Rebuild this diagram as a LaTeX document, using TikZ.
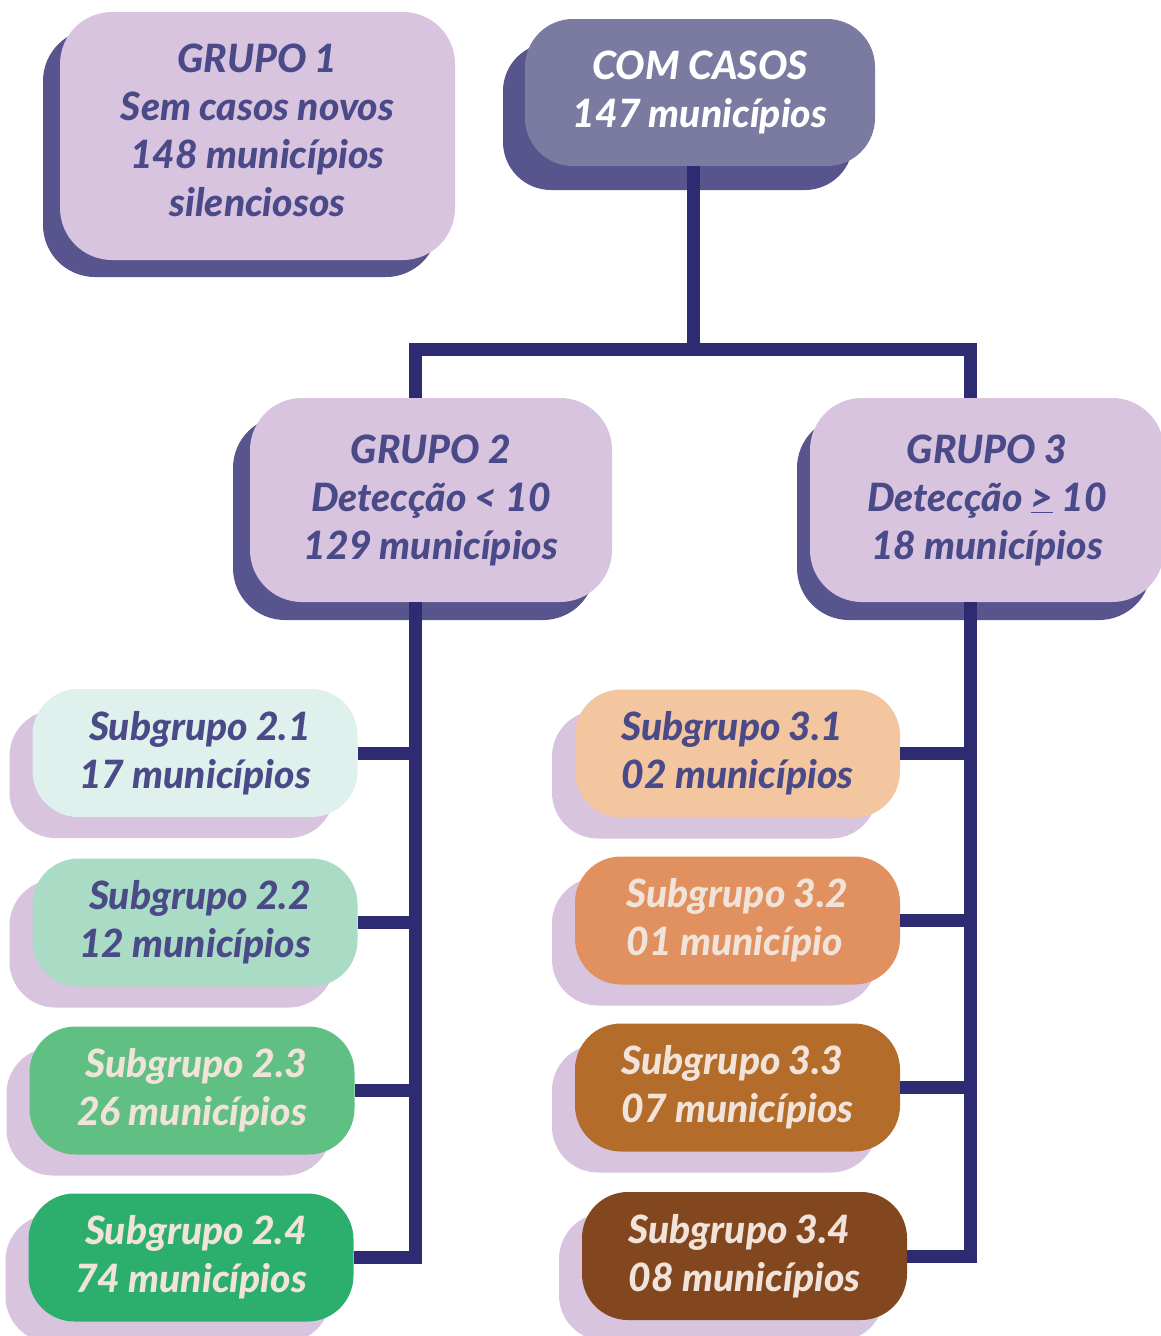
\documentclass[tikz,border=0pt]{standalone}
\usepackage{fontspec}
\setmainfont{Lato}[BoldItalicFont={Lato Heavy Italic}]
\usetikzlibrary{shadows}

\definecolor{lilac}{HTML}{D8C4DF}
\definecolor{deep}{HTML}{58558E}
\definecolor{lavender}{HTML}{7B7AA1}
\definecolor{ink}{HTML}{4B4A88}
\definecolor{navy}{HTML}{2E2B72}
\definecolor{creme}{HTML}{F1E3D9}
\definecolor{verde1}{HTML}{DFF1EC}
\definecolor{verde2}{HTML}{AADBC5}
\definecolor{verde3}{HTML}{60BF82}
\definecolor{verde4}{HTML}{2CAF6C}
\definecolor{laranja1}{HTML}{F3C69F}
\definecolor{laranja2}{HTML}{E0915F}
\definecolor{laranja3}{HTML}{B36C2A}
\definecolor{laranja4}{HTML}{834720}

\begin{document}
\begin{tikzpicture}[x=1pt, y=-1pt,
  every node/.style={font=\fontsize{39}{48}\selectfont\bfseries\itshape, inner sep=0pt},
  sombra/.style 2 args={drop shadow={shadow xshift=#1, shadow yshift=#2, fill=deep, opacity=1}},
  grupo/.style={fill=lilac, text=ink, rounded corners=52pt, align=center},
  subbox/.style={fill=#1, text=ink, rounded corners=46pt, minimum width=325pt, minimum height=128pt,
    drop shadow={shadow xshift=-23pt, shadow yshift=-21pt, fill=lilac, opacity=1}},
  tronco/.style={draw=navy, line width=13pt}]

  \useasboundingbox[fill=white] (0,0) rectangle (1160,1336);

  % grupos
  \node[grupo, sombra={-17pt}{-17pt}, minimum width=395pt, minimum height=248pt] (g1) at (257.5,136)
    {GRUPO 1\\Sem casos novos\\148 municípios\\silenciosos\\[-36pt]};
  \node[grupo, sombra={-22pt}{-24pt}, fill=lavender, text=white, rounded corners=48pt,
    minimum width=350pt, minimum height=147pt] (com) at (700,92.5) {COM CASOS\\147 municípios};
  \node[grupo, sombra={-17pt}{-18pt}, minimum width=362pt, minimum height=204pt] (g2) at (431,500)
    {GRUPO 2\\Detecção < 10\\129 municípios};
  \node[grupo, sombra={-13pt}{-18pt}, minimum width=354pt, minimum height=204pt] (g3) at (987,500)
    {GRUPO 3\\Detecção \underline{>} 10\\18 municípios};

  % subgrupos do grupo 2
  \node[subbox=verde1, align=right] (s21) at (195,753) {Subgrupo 2.1\\17 municípios};
  \node[subbox=verde2, align=right] (s22) at (195,922.5) {Subgrupo 2.2\\12 municípios};
  \node[subbox=verde3, align=right, text=creme] (s23) at (192,1090.5) {Subgrupo 2.3\\26 municípios};
  \node[subbox=verde4, align=right, text=creme] (s24) at (191,1257.5) {Subgrupo 2.4\\74 municípios};

  % subgrupos do grupo 3
  \node[subbox=laranja1, align=left] (s31) at (737.5,753.5) {Subgrupo 3.1\\02 municípios};
  \node[subbox=laranja2, align=left, text=creme] (s32) at (737.5,920.5) {Subgrupo 3.2\\01 município};
  \node[subbox=laranja3, align=left, text=creme] (s33) at (737.5,1087.5) {Subgrupo 3.3\\07 municípios};
  \node[subbox=laranja4, align=left, text=creme] (s34) at (744.5,1256) {Subgrupo 3.4\\08 municípios};

  % ligacoes
  \coordinate (jc) at (693,349.5);
  \coordinate (j2) at (415,349.5);
  \coordinate (j3) at (970,349.5);
  \draw[tronco] (com.south -| jc) -- (jc);
  \draw[tronco] (g2.north -| j2) -- (j2) -- (j3) -- (g3.north -| j3);
  \draw[tronco] (g2.south -| j2) |- (s24.east);
  \foreach \s in {s21,s22,s23}
    \draw[tronco] (\s.east) -- (\s.east -| j2);
  \draw[tronco] (g3.south -| j3) |- (s34.east);
  \foreach \s in {s31,s32,s33}
    \draw[tronco] (\s.east) -- (\s.east -| j3);
\end{tikzpicture}
\end{document}
